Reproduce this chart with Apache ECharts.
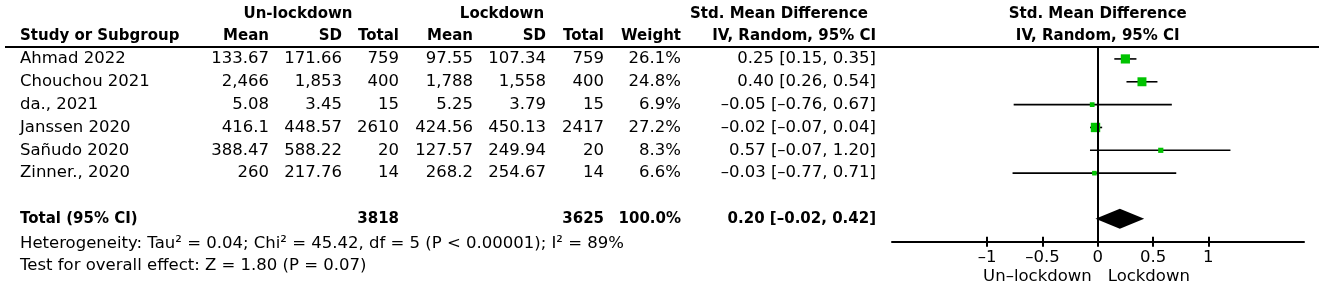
<!DOCTYPE html>
<html>
<head>
<meta charset="utf-8">
<script src="https://cdn.jsdelivr.net/npm/echarts@6/dist/echarts.min.js"></script>
<style>
  html, body { margin: 0; background: #fff; }
  #chart { width: 1325px; height: 287px; }
</style>
</head>
<body>
<div id="chart"></div>
<script>
// study rows
const studies = ['Ahmad 2022', 'Chouchou 2021', 'da., 2021', 'Janssen 2020', 'Sañudo 2020', 'Zinner., 2020']
const unlockMean = ['133.67', '2,466', '5.08', '416.1', '388.47', '260']
const unlockSD = ['171.66', '1,853', '3.45', '448.57', '588.22', '217.76']
const unlockTotal = [759, 400, 15, 2610, 20, 14]
const lockMean = ['97.55', '1,788', '5.25', '424.56', '127.57', '268.2']
const lockSD = ['107.34', '1,558', '3.79', '450.13', '249.94', '254.67']
const lockTotal = [759, 400, 15, 2417, 20, 14]
const weights = [26.1, 24.8, 6.9, 27.2, 8.3, 6.6]
const smd = [0.25, 0.40, -0.05, -0.02, 0.57, -0.03]
const ciLow = [0.15, 0.26, -0.76, -0.07, -0.07, -0.77]
const ciHigh = [0.35, 0.54, 0.67, 0.04, 1.20, 0.71]

// pooled result
const totalUnlock = 3818
const totalLock = 3625
const totalWeight = 100.0
const pooled = [0.20, -0.02, 0.42] // estimate, low, high
const heterogeneity = 'Heterogeneity: Tau² = 0.04; Chi² = 45.42, df = 5 (P < 0.00001); I² = 89%'
const overallTest = 'Test for overall effect: Z = 1.80 (P = 0.07)'

// axis
const xTicks = [-1, -0.5, 0, 0.5, 1]
const sideLabels = ['Un-lockdown', 'Lockdown']

const TOTAL_ROW = 7
const FONT = 'DejaVu Sans'
const REG = '16.5px'
const BOLD = 'bold 15px'
const GREEN = '#00c300'

const dash = (s) => String(s).replace(/-/g, '–')
const fmt = (v) => dash(v.toFixed(2))
const ciText = (e, lo, hi) => `${fmt(e)} [${fmt(lo)}, ${fmt(hi)}]`

// table columns: x is the anchor (left or right edge)
const columns = [
  { x: 20, align: 'left', vals: studies },
  { x: 269, align: 'right', vals: unlockMean },
  { x: 342, align: 'right', vals: unlockSD },
  { x: 399, align: 'right', vals: unlockTotal.map(String) },
  { x: 473, align: 'right', vals: lockMean },
  { x: 546, align: 'right', vals: lockSD },
  { x: 604, align: 'right', vals: lockTotal.map(String) },
  { x: 681, align: 'right', vals: weights.map((w) => w.toFixed(1) + '%') },
  { x: 876, align: 'right', vals: studies.map((_, i) => ciText(smd[i], ciLow[i], ciHigh[i])) },
]
const totalRow = ['Total (95% CI)', '', '', String(totalUnlock), '', '', String(totalLock),
  totalWeight.toFixed(1) + '%', ciText(pooled[0], pooled[1], pooled[2])]

const cells = []
columns.forEach((c, ci) => {
  c.vals.forEach((v, r) => cells.push({ x: c.x, row: r, text: v, align: c.align, bold: false }))
  if (totalRow[ci]) cells.push({ x: c.x, row: TOTAL_ROW, text: totalRow[ci], align: c.align, bold: true })
})

const chart = echarts.init(document.getElementById('chart'), null, { renderer: 'canvas' })

const gridTop = 47.5
const gridBottom = 45.3
const yAxisCommon = { type: 'value', min: -0.5, max: 8, inverse: true, show: false }
const xMin = -1.86
const xMax = 1.865

const hdr = (text, x, y, align, bold) => ({
  type: 'text', x, y,
  style: {
    text, align, verticalAlign: 'middle', fill: '#000',
    font: `${bold ? BOLD : REG} "${FONT}"`,
  },
})

const option = {
  animation: false,
  backgroundColor: '#fff',
  grid: [
    { left: 0, right: 0, top: gridTop, bottom: gridBottom },
    { left: 892, right: 21, top: gridTop, bottom: gridBottom },
  ],
  xAxis: [
    { gridIndex: 0, type: 'value', min: 0, max: 1325, show: false },
    {
      gridIndex: 1, type: 'value', min: xMin, max: xMax, position: 'bottom',
      axisLine: { show: true, onZero: false, lineStyle: { color: '#000', width: 2 } },
      axisTick: { show: true, length: 5, customValues: xTicks, lineStyle: { color: '#000', width: 2 } },
      axisLabel: {
        show: true, customValues: xTicks, margin: 8, color: '#000',
        fontFamily: FONT, fontSize: 16.5, formatter: (v) => dash(v),
      },
      splitLine: { show: false },
    },
    {
      // second axis only for the upper half of the tick marks
      gridIndex: 1, type: 'value', min: xMin, max: xMax, position: 'bottom',
      axisLine: { show: false, onZero: false },
      axisTick: { show: true, inside: true, length: 5, customValues: xTicks, lineStyle: { color: '#000', width: 2 } },
      axisLabel: { show: false },
      splitLine: { show: false },
    },
  ],
  yAxis: [
    { gridIndex: 0, ...yAxisCommon },
    { gridIndex: 1, ...yAxisCommon },
  ],
  series: [
    {
      // table text
      type: 'custom',
      xAxisIndex: 0,
      yAxisIndex: 0,
      clip: false,
      data: cells.map((c) => [c.x, c.row]),
      renderItem(params, api) {
        const c = cells[params.dataIndex]
        const p = api.coord([api.value(0), api.value(1)])
        return {
          type: 'text', x: p[0], y: p[1],
          style: {
            text: c.text, align: c.align, verticalAlign: 'middle', fill: '#000',
            font: `${c.bold ? BOLD : REG} "${FONT}"`,
          },
        }
      },
    },
    {
      // study estimates with CI
      type: 'custom',
      xAxisIndex: 1,
      yAxisIndex: 1,
      clip: false,
      data: studies.map((_, i) => [i, smd[i], ciLow[i], ciHigh[i], weights[i]]),
      encode: { x: [1, 2, 3], y: 0 },
      renderItem(params, api) {
        const y = api.value(0)
        const p = api.coord([api.value(1), y])
        const lo = api.coord([api.value(2), y])
        const hi = api.coord([api.value(3), y])
        const s = Math.sqrt(api.value(4)) * 1.8
        return {
          type: 'group',
          children: [
            { type: 'line', shape: { x1: lo[0], y1: lo[1], x2: hi[0], y2: hi[1] }, style: { stroke: '#000', lineWidth: 1.6 } },
            { type: 'rect', shape: { x: p[0] - s / 2, y: p[1] - s / 2, width: s, height: s }, style: { fill: GREEN } },
          ],
        }
      },
      markLine: {
        silent: true,
        symbol: 'none',
        label: { show: false },
        lineStyle: { color: '#000', width: 2, type: 'solid' },
        data: [{ xAxis: 0 }],
      },
    },
    {
      // pooled diamond
      type: 'custom',
      xAxisIndex: 1,
      yAxisIndex: 1,
      clip: false,
      data: [[TOTAL_ROW, pooled[0], pooled[1], pooled[2]]],
      encode: { x: [1, 2, 3], y: 0 },
      renderItem(params, api) {
        const y = api.value(0)
        const e = api.coord([api.value(1), y])
        const lo = api.coord([api.value(2), y])
        const hi = api.coord([api.value(3), y])
        const h = 10
        return {
          type: 'polygon',
          shape: { points: [[lo[0], lo[1]], [e[0], e[1] - h], [hi[0], hi[1]], [e[0], e[1] + h]] },
          style: { fill: '#000' },
        }
      },
    },
  ],
  graphic: [
    { id: 'rule', type: 'line', shape: { x1: 5, y1: 47, x2: 1319, y2: 47 }, style: { stroke: '#000', lineWidth: 2 } },
    { id: 'h1', ...hdr('Un-lockdown', 298, 14, 'center', true) },
    { id: 'h2', ...hdr('Lockdown', 502, 14, 'center', true) },
    { id: 'h3', ...hdr('Std. Mean Difference', 779, 14, 'center', true) },
    { id: 'h4', ...hdr('Study or Subgroup', 20, 36, 'left', true) },
    { id: 'h5', ...hdr('Mean', 269, 36, 'right', true) },
    { id: 'h6', ...hdr('SD', 342, 36, 'right', true) },
    { id: 'h7', ...hdr('Total', 399, 36, 'right', true) },
    { id: 'h8', ...hdr('Mean', 473, 36, 'right', true) },
    { id: 'h9', ...hdr('SD', 546, 36, 'right', true) },
    { id: 'h10', ...hdr('Total', 604, 36, 'right', true) },
    { id: 'h11', ...hdr('Weight', 681, 36, 'right', true) },
    { id: 'h12', ...hdr('IV, Random, 95% CI', 876, 36, 'right', true) },
    { id: 'f1', ...hdr(heterogeneity, 20, 244, 'left', false) },
    { id: 'f2', ...hdr(overallTest, 20, 266, 'left', false) },
  ],
}

chart.setOption(option)

// headers and side labels of the plot, placed relative to the zero line
const x0 = chart.convertToPixel({ xAxisIndex: 1 }, 0)
chart.setOption({
  graphic: [
    { id: 'p1', ...hdr('Std. Mean Difference', x0, 14, 'center', true) },
    { id: 'p2', ...hdr('IV, Random, 95% CI', x0, 36, 'center', true) },
    { id: 's1', ...hdr(dash(sideLabels[0]), x0 - 6, 277, 'right', false) },
    { id: 's2', ...hdr(sideLabels[1], x0 + 10, 277, 'left', false) },
  ],
})
</script>
</body>
</html>
